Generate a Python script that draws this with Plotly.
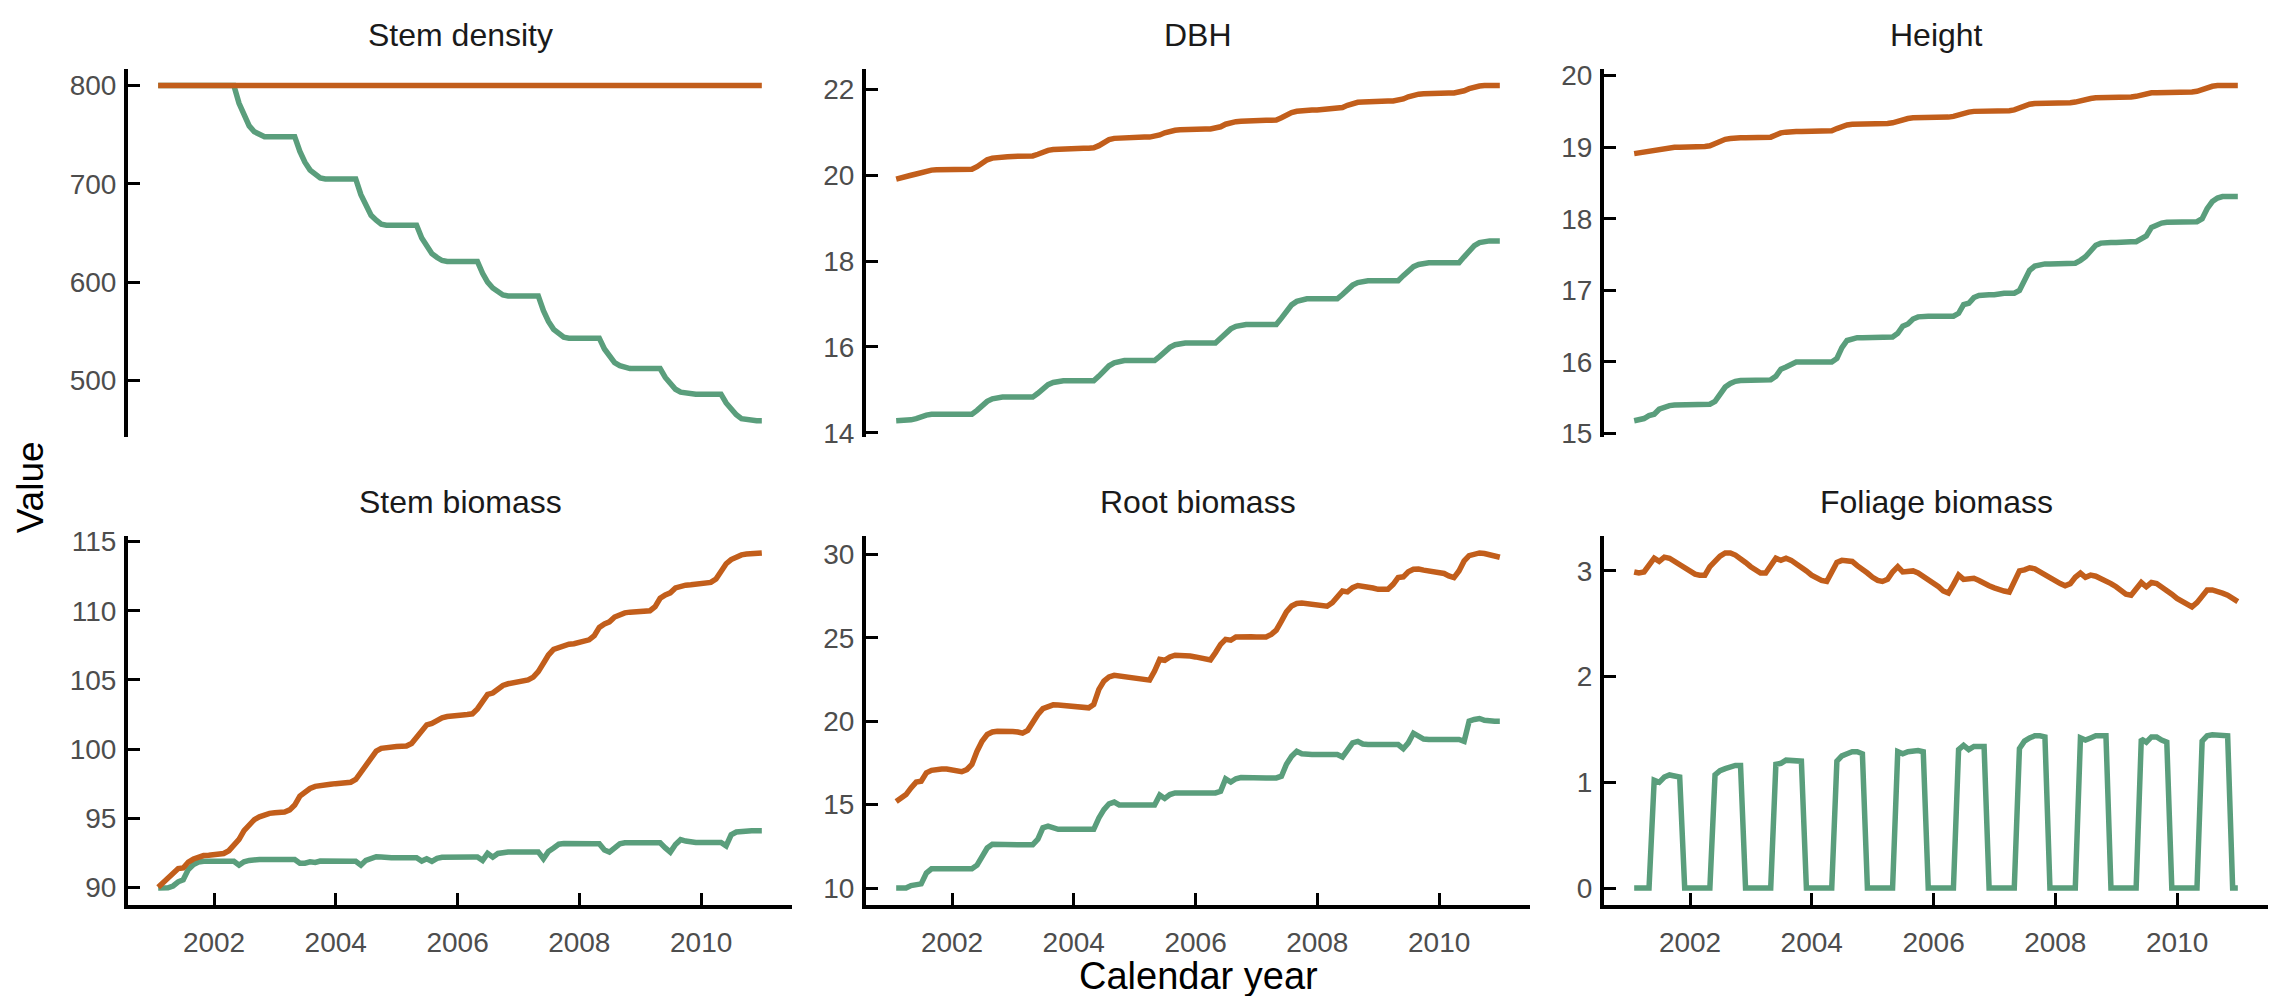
import pandas as pd
import plotly.graph_objects as go

# ---------------- data (monthly, Jan 2001 - Dec 2010) ----------------
DATES = pd.date_range(start="2001-01-31", end="2010-12-31", freq=pd.offsets.MonthEnd())

PANEL_TITLES = ["Stem density", "DBH", "Height", "Stem biomass", "Root biomass", "Foliage biomass"]
SERIES_NAMES = ["Series A", "Series B"]

stem_density_orange = [
    800, 800, 800, 800, 800, 800, 800, 800, 800, 800, 800, 800,
    800, 800, 800, 800, 800, 800, 800, 800, 800, 800, 800, 800,
    800, 800, 800, 800, 800, 800, 800, 800, 800, 800, 800, 800,
    800, 800, 800, 800, 800, 800, 800, 800, 800, 800, 800, 800,
    800, 800, 800, 800, 800, 800, 800, 800, 800, 800, 800, 800,
    800, 800, 800, 800, 800, 800, 800, 800, 800, 800, 800, 800,
    800, 800, 800, 800, 800, 800, 800, 800, 800, 800, 800, 800,
    800, 800, 800, 800, 800, 800, 800, 800, 800, 800, 800, 800,
    800, 800, 800, 800, 800, 800, 800, 800, 800, 800, 800, 800,
    800, 800, 800, 800, 800, 800, 800, 800, 800, 800, 800, 800,
]
stem_density_green = [
    800, 800, 800, 800, 800, 800, 800, 800, 800, 800, 800, 800,
    800, 800, 800, 800, 782, 769, 759, 753, 750, 748, 748, 748,
    748, 748, 748, 748, 733, 722, 714, 709, 706, 705, 705, 705,
    705, 705, 705, 705, 689, 677, 668, 663, 659, 658, 658, 658,
    658, 658, 658, 658, 645, 636, 629, 625, 622, 621, 621, 621,
    621, 621, 621, 621, 609, 600, 594, 590, 587, 586, 586, 586,
    586, 586, 586, 586, 571, 560, 552, 547, 544, 543, 543, 543,
    543, 543, 543, 543, 532, 524, 518, 515, 513, 512, 512, 512,
    512, 512, 512, 512, 503, 496, 491, 488, 487, 486, 486, 486,
    486, 486, 486, 486, 477, 470, 465, 461, 460, 459, 459, 459,
]

dbh_orange = [
    19.91, 19.93, 19.96, 20.00, 20.03, 20.07, 20.10, 20.12, 20.13, 20.13, 20.13, 20.13,
    20.13, 20.13, 20.13, 20.14, 20.20, 20.29, 20.36, 20.40, 20.42, 20.43, 20.43, 20.44,
    20.44, 20.44, 20.44, 20.45, 20.49, 20.54, 20.58, 20.60, 20.61, 20.62, 20.62, 20.62,
    20.63, 20.63, 20.63, 20.64, 20.69, 20.77, 20.83, 20.86, 20.87, 20.88, 20.88, 20.88,
    20.89, 20.89, 20.89, 20.90, 20.94, 20.99, 21.03, 21.05, 21.06, 21.07, 21.07, 21.07,
    21.08, 21.08, 21.08, 21.09, 21.13, 21.19, 21.23, 21.25, 21.26, 21.27, 21.27, 21.27,
    21.28, 21.28, 21.28, 21.29, 21.34, 21.41, 21.46, 21.49, 21.51, 21.52, 21.52, 21.52,
    21.53, 21.53, 21.53, 21.54, 21.58, 21.63, 21.67, 21.70, 21.71, 21.72, 21.72, 21.72,
    21.73, 21.73, 21.73, 21.74, 21.78, 21.83, 21.87, 21.89, 21.90, 21.91, 21.91, 21.91,
    21.92, 21.92, 21.92, 21.93, 21.97, 22.02, 22.06, 22.08, 22.09, 22.09, 22.09, 22.09,
]
dbh_green = [
    14.28, 14.28, 14.29, 14.30, 14.33, 14.38, 14.41, 14.43, 14.43, 14.43, 14.43, 14.43,
    14.43, 14.43, 14.43, 14.43, 14.52, 14.64, 14.73, 14.79, 14.82, 14.83, 14.83, 14.83,
    14.83, 14.83, 14.83, 14.83, 14.92, 15.03, 15.12, 15.17, 15.20, 15.21, 15.21, 15.21,
    15.21, 15.21, 15.21, 15.21, 15.32, 15.45, 15.56, 15.63, 15.67, 15.68, 15.68, 15.68,
    15.68, 15.68, 15.68, 15.68, 15.78, 15.90, 15.99, 16.05, 16.08, 16.09, 16.09, 16.09,
    16.09, 16.09, 16.09, 16.09, 16.20, 16.32, 16.42, 16.48, 16.51, 16.52, 16.52, 16.52,
    16.52, 16.52, 16.52, 16.52, 16.67, 16.84, 16.98, 17.06, 17.10, 17.12, 17.12, 17.12,
    17.12, 17.12, 17.12, 17.12, 17.22, 17.34, 17.44, 17.50, 17.53, 17.54, 17.54, 17.54,
    17.54, 17.54, 17.54, 17.54, 17.66, 17.78, 17.87, 17.92, 17.95, 17.96, 17.96, 17.96,
    17.96, 17.96, 17.96, 17.96, 18.10, 18.25, 18.36, 18.43, 18.46, 18.47, 18.47, 18.47,
]

height_orange = [
    18.91, 18.92, 18.93, 18.94, 18.96, 18.97, 18.99, 19.00, 19.00, 19.00, 19.00, 19.00,
    19.00, 19.00, 19.01, 19.02, 19.05, 19.09, 19.11, 19.12, 19.13, 19.13, 19.13, 19.13,
    19.13, 19.13, 19.13, 19.14, 19.17, 19.20, 19.21, 19.22, 19.22, 19.22, 19.22, 19.22,
    19.22, 19.22, 19.22, 19.23, 19.26, 19.29, 19.31, 19.32, 19.32, 19.32, 19.32, 19.32,
    19.33, 19.33, 19.33, 19.34, 19.36, 19.39, 19.40, 19.41, 19.41, 19.41, 19.41, 19.41,
    19.42, 19.42, 19.42, 19.43, 19.45, 19.48, 19.49, 19.50, 19.50, 19.50, 19.50, 19.50,
    19.51, 19.51, 19.51, 19.52, 19.55, 19.58, 19.60, 19.61, 19.61, 19.61, 19.61, 19.61,
    19.62, 19.62, 19.62, 19.63, 19.65, 19.67, 19.68, 19.69, 19.69, 19.69, 19.69, 19.69,
    19.70, 19.70, 19.70, 19.71, 19.73, 19.75, 19.76, 19.76, 19.76, 19.76, 19.76, 19.76,
    19.77, 19.77, 19.77, 19.78, 19.81, 19.84, 19.85, 19.86, 19.86, 19.86, 19.86, 19.86,
]
height_green = [
    15.18, 15.19, 15.21, 15.25, 15.27, 15.34, 15.37, 15.39, 15.40, 15.40, 15.40, 15.40,
    15.41, 15.41, 15.41, 15.41, 15.45, 15.56, 15.65, 15.70, 15.73, 15.74, 15.74, 15.74,
    15.75, 15.75, 15.75, 15.75, 15.80, 15.90, 15.93, 15.97, 16.00, 16.00, 16.00, 16.00,
    16.00, 16.00, 16.00, 16.00, 16.05, 16.20, 16.30, 16.33, 16.34, 16.34, 16.34, 16.34,
    16.35, 16.35, 16.35, 16.35, 16.40, 16.50, 16.53, 16.60, 16.63, 16.64, 16.64, 16.64,
    16.64, 16.64, 16.64, 16.64, 16.68, 16.80, 16.82, 16.90, 16.93, 16.94, 16.94, 16.94,
    16.96, 16.96, 16.96, 16.96, 17.00, 17.15, 17.28, 17.34, 17.36, 17.37, 17.37, 17.37,
    17.38, 17.38, 17.38, 17.38, 17.42, 17.47, 17.55, 17.63, 17.66, 17.67, 17.67, 17.67,
    17.68, 17.68, 17.68, 17.68, 17.72, 17.76, 17.88, 17.92, 17.94, 17.95, 17.95, 17.95,
    17.96, 17.96, 17.96, 17.96, 18.00, 18.14, 18.24, 18.29, 18.31, 18.31, 18.31, 18.31,
]

stem_biomass_orange = [
    90.00, 90.30, 90.65, 91.00, 91.36, 91.40, 91.83, 92.05, 92.20, 92.30, 92.33, 92.37,
    92.37, 92.45, 92.65, 93.00, 93.47, 94.10, 94.55, 94.90, 95.10, 95.25, 95.35, 95.40,
    95.42, 95.45, 95.60, 95.95, 96.60, 96.90, 97.15, 97.30, 97.38, 97.42, 97.45, 97.50,
    97.52, 97.55, 97.60, 97.80, 98.30, 98.90, 99.40, 99.85, 100.05, 100.12, 100.15, 100.18,
    100.20, 100.22, 100.40, 100.80, 101.30, 101.75, 101.85, 102.10, 102.25, 102.35, 102.42, 102.45,
    102.47, 102.50, 102.55, 102.90, 103.50, 103.95, 104.05, 104.35, 104.60, 104.72, 104.80, 104.88,
    104.95, 105.00, 105.20, 105.60, 106.20, 106.80, 107.20, 107.35, 107.50, 107.58, 107.62, 107.70,
    107.80, 107.90, 108.20, 108.80, 109.05, 109.20, 109.55, 109.75, 109.85, 109.90, 109.94, 109.96,
    109.98, 110.00, 110.30, 110.90, 111.15, 111.30, 111.65, 111.80, 111.85, 111.88, 111.90, 111.95,
    112.00, 112.05, 112.30, 112.90, 113.40, 113.70, 113.90, 114.04, 114.10, 114.14, 114.16, 114.18,
]
stem_biomass_green = [
    89.95, 89.95, 89.97, 90.10, 90.40, 90.55, 91.30, 91.65, 91.83, 91.88, 91.88, 91.88,
    91.88, 91.88, 91.88, 91.88, 91.60, 91.85, 91.95, 92.02, 92.02, 92.02, 92.02, 92.02,
    92.02, 92.02, 92.02, 92.02, 91.75, 91.75, 91.85, 91.80, 91.90, 91.88, 91.88, 91.88,
    91.88, 91.88, 91.88, 91.88, 91.60, 91.95, 92.10, 92.22, 92.20, 92.14, 92.14, 92.14,
    92.14, 92.14, 92.14, 92.14, 91.90, 92.07, 91.88, 92.10, 92.18, 92.20, 92.20, 92.20,
    92.20, 92.20, 92.20, 92.20, 91.95, 92.46, 92.18, 92.45, 92.54, 92.56, 92.56, 92.56,
    92.56, 92.56, 92.56, 92.56, 92.07, 92.60, 92.85, 93.12, 93.17, 93.15, 93.15, 93.15,
    93.15, 93.15, 93.15, 93.15, 92.70, 92.55, 92.90, 93.15, 93.22, 93.22, 93.22, 93.22,
    93.22, 93.22, 93.22, 93.22, 92.85, 92.55, 93.10, 93.45, 93.35, 93.25, 93.25, 93.25,
    93.25, 93.25, 93.25, 93.25, 93.00, 93.80, 94.00, 94.06, 94.10, 94.10, 94.10, 94.10,
]

root_biomass_orange = [
    15.18, 15.40, 15.60, 16.00, 16.35, 16.40, 16.90, 17.05, 17.12, 17.13, 17.13, 17.10,
    17.00, 16.97, 17.10, 17.40, 18.20, 18.80, 19.20, 19.35, 19.40, 19.42, 19.40, 19.38,
    19.35, 19.28, 19.45, 20.00, 20.40, 20.75, 20.88, 20.98, 20.97, 20.95, 20.90, 20.86,
    20.84, 20.82, 20.80, 21.00, 21.90, 22.40, 22.65, 22.75, 22.72, 22.68, 22.64, 22.60,
    22.55, 22.50, 22.46, 23.00, 23.70, 23.65, 23.85, 23.95, 23.96, 23.95, 23.90, 23.85,
    23.78, 23.70, 23.67, 24.10, 24.60, 24.90, 24.85, 25.05, 25.08, 25.08, 25.06, 25.05,
    25.04, 25.05, 25.20, 25.45, 26.00, 26.55, 26.90, 27.05, 27.08, 27.05, 26.98, 26.95,
    26.90, 26.89, 27.10, 27.50, 27.80, 27.75, 28.00, 28.13, 28.10, 28.05, 27.98, 27.90,
    27.87, 27.90, 28.20, 28.60, 28.65, 28.95, 29.10, 29.12, 29.05, 29.00, 28.95, 28.91,
    28.85, 28.70, 28.60, 29.00, 29.60, 29.92, 30.00, 30.08, 30.05, 30.00, 29.93, 29.82,
]
root_biomass_green = [
    10.00, 10.00, 10.00, 10.15, 10.23, 10.25, 10.90, 11.15, 11.15, 11.15, 11.15, 11.15,
    11.15, 11.15, 11.15, 11.15, 11.37, 11.95, 12.40, 12.62, 12.60, 12.60, 12.60, 12.60,
    12.60, 12.60, 12.60, 12.60, 12.93, 13.61, 13.71, 13.60, 13.52, 13.52, 13.52, 13.52,
    13.52, 13.52, 13.52, 13.52, 14.20, 14.70, 15.05, 15.15, 14.98, 14.98, 14.98, 14.98,
    14.98, 14.98, 14.98, 14.98, 15.57, 15.37, 15.60, 15.70, 15.70, 15.70, 15.70, 15.70,
    15.70, 15.70, 15.70, 15.70, 15.80, 16.54, 16.35, 16.55, 16.62, 16.60, 16.60, 16.60,
    16.60, 16.60, 16.60, 16.60, 16.70, 17.42, 17.90, 18.20, 18.05, 18.00, 18.00, 18.00,
    18.00, 18.00, 18.00, 18.00, 17.85, 18.30, 18.70, 18.79, 18.63, 18.60, 18.60, 18.60,
    18.60, 18.60, 18.60, 18.60, 18.35, 18.70, 19.28, 19.10, 18.93, 18.90, 18.90, 18.90,
    18.90, 18.90, 18.90, 18.90, 18.79, 20.00, 20.10, 20.16, 20.05, 20.00, 20.00, 20.00,
]

foliage_biomass_orange = [
    2.99, 2.98, 2.99, 3.05, 3.12, 3.09, 3.13, 3.12, 3.09, 3.06, 3.03, 3.00,
    2.97, 2.96, 2.96, 3.04, 3.10, 3.14, 3.17, 3.17, 3.15, 3.12, 3.08, 3.04,
    3.01, 2.98, 2.98, 3.06, 3.12, 3.10, 3.12, 3.10, 3.07, 3.03, 3.00, 2.96,
    2.93, 2.91, 2.90, 2.99, 3.08, 3.10, 3.10, 3.09, 3.05, 3.02, 2.98, 2.94,
    2.91, 2.90, 2.92, 2.99, 3.04, 2.99, 3.00, 3.00, 2.98, 2.95, 2.91, 2.88,
    2.85, 2.81, 2.79, 2.87, 2.96, 2.92, 2.93, 2.93, 2.91, 2.88, 2.86, 2.84,
    2.82, 2.81, 2.80, 2.90, 3.00, 3.01, 3.03, 3.02, 2.99, 2.96, 2.93, 2.90,
    2.88, 2.86, 2.88, 2.94, 2.98, 2.94, 2.96, 2.95, 2.93, 2.91, 2.88, 2.85,
    2.81, 2.78, 2.77, 2.82, 2.89, 2.85, 2.89, 2.88, 2.85, 2.82, 2.78, 2.74,
    2.71, 2.68, 2.66, 2.70, 2.76, 2.82, 2.82, 2.81, 2.79, 2.77, 2.74, 2.71,
]
foliage_biomass_green = [
    0.00, 0.00, 0.00, 0.00, 1.02, 1.00, 1.05, 1.07, 1.06, 1.05, 0.00, 0.00,
    0.00, 0.00, 0.00, 0.00, 1.07, 1.11, 1.13, 1.15, 1.16, 1.16, 0.00, 0.00,
    0.00, 0.00, 0.00, 0.00, 1.17, 1.18, 1.21, 1.21, 1.21, 1.20, 0.00, 0.00,
    0.00, 0.00, 0.00, 0.00, 1.20, 1.25, 1.27, 1.29, 1.29, 1.27, 0.00, 0.00,
    0.00, 0.00, 0.00, 0.00, 1.29, 1.27, 1.29, 1.30, 1.30, 1.29, 0.00, 0.00,
    0.00, 0.00, 0.00, 0.00, 1.31, 1.35, 1.31, 1.34, 1.34, 1.34, 0.00, 0.00,
    0.00, 0.00, 0.00, 0.00, 1.32, 1.39, 1.42, 1.44, 1.44, 1.43, 0.00, 0.00,
    0.00, 0.00, 0.00, 0.00, 1.42, 1.40, 1.42, 1.44, 1.44, 1.44, 0.00, 0.00,
    0.00, 0.00, 0.00, 0.00, 1.41, 1.38, 1.43, 1.43, 1.40, 1.38, 0.00, 0.00,
    0.00, 0.00, 0.00, 0.00, 1.39, 1.44, 1.45, 1.45, 1.45, 1.44, 0.00, 0.00,
]

Y_TICK_STEPS = [100, 2, 1, 5, 5, 1]
X_TICK_LABELS = ["2002", "2004", "2006", "2008", "2010"]

# ---------------- styling ----------------
ORANGE = "#C25E1B"
GREEN = "#5A9E7C"
PAGE_W, PAGE_H = 2282, 1004
OFF = 8                      # default page (body) margin of the html file
W, H = PAGE_W - 2 * OFF, PAGE_H - 2 * OFF
FONT = "Liberation Sans, Arial, Helvetica, sans-serif"
TICK_FONT = dict(family=FONT, size=28, color="#4D4D4D")


def px_x(p):
    return (p - OFF) / W


def px_y(p):
    return 1 - (p - OFF) / H


panels = [
    (stem_density_orange, stem_density_green),
    (dbh_orange, dbh_green),
    (height_orange, height_green),
    (stem_biomass_orange, stem_biomass_green),
    (root_biomass_orange, root_biomass_green),
    (foliage_biomass_orange, foliage_biomass_green),
]

# panel geometry in page pixels
col_left = [128, 866, 1604]
panel_w = 664
row_top = [60, 538]
panel_h = 377
title_y = [25, 503]

span = DATES[-1] - DATES[0]
x_range = [DATES[0] - span * 0.05, DATES[-1] + span * 0.05]

fig = go.Figure()
layout = dict(
    width=W, height=H,
    margin=dict(l=0, r=0, t=0, b=0),
    paper_bgcolor="white", plot_bgcolor="white",
    showlegend=False,
    font=dict(family=FONT),
)
annotations = []

for i, (orange, green) in enumerate(panels):
    r, c = divmod(i, 3)
    ax = "" if i == 0 else str(i + 1)
    for vals, colr, nm in ((green, GREEN, SERIES_NAMES[1]), (orange, ORANGE, SERIES_NAMES[0])):
        fig.add_trace(go.Scatter(
            x=DATES, y=vals, mode="lines", name=nm,
            line=dict(color=colr, width=5.5),
            xaxis="x" + ax, yaxis="y" + ax,
        ))
    lo = min(min(orange), min(green))
    hi = max(max(orange), max(green))
    pad = (hi - lo) * 0.05
    x0 = px_x(col_left[c])
    x1 = px_x(col_left[c] + panel_w)
    y1 = px_y(row_top[r])
    y0 = px_y(row_top[r] + panel_h)
    bottom = r == 1
    layout["xaxis" + ax] = dict(
        domain=[x0, x1], anchor="y" + ax, type="date", range=x_range,
        showgrid=False, zeroline=False,
        showline=bottom, linecolor="black", linewidth=4,
        ticks="inside" if bottom else "", ticklen=12, tickwidth=3, tickcolor="black",
        tickvals=[pd.Timestamp(f"{t}-01-01") for t in X_TICK_LABELS],
        ticktext=X_TICK_LABELS,
        showticklabels=bottom, tickfont=TICK_FONT, ticklabelstandoff=10,
    )
    layout["yaxis" + ax] = dict(
        domain=[y0, y1], anchor="x" + ax, range=[lo - pad, hi + pad],
        showgrid=False, zeroline=False,
        showline=True, linecolor="black", linewidth=4,
        ticks="inside", ticklen=12, tickwidth=3, tickcolor="black",
        tick0=0, dtick=Y_TICK_STEPS[i],
        tickfont=TICK_FONT, ticklabelstandoff=2,
    )
    annotations.append(dict(
        text=PANEL_TITLES[i], xref="paper", yref="paper",
        x=(x0 + x1) / 2, y=px_y(title_y[r]),
        xanchor="center", yanchor="middle", showarrow=False,
        font=dict(family=FONT, size=32, color="#1A1A1A"),
    ))

annotations.append(dict(
    text="Value", xref="paper", yref="paper", x=px_x(30), y=px_y(488),
    xanchor="center", yanchor="middle", textangle=-90, showarrow=False,
    font=dict(family=FONT, size=37, color="black"),
))
annotations.append(dict(
    text="Calendar year", xref="paper", yref="paper", x=px_x(1198), y=px_y(988),
    xanchor="center", yanchor="middle", showarrow=False,
    font=dict(family=FONT, size=38, color="black"),
))
layout["annotations"] = annotations
fig.update_layout(**layout)
fig.write_html("out.html")
